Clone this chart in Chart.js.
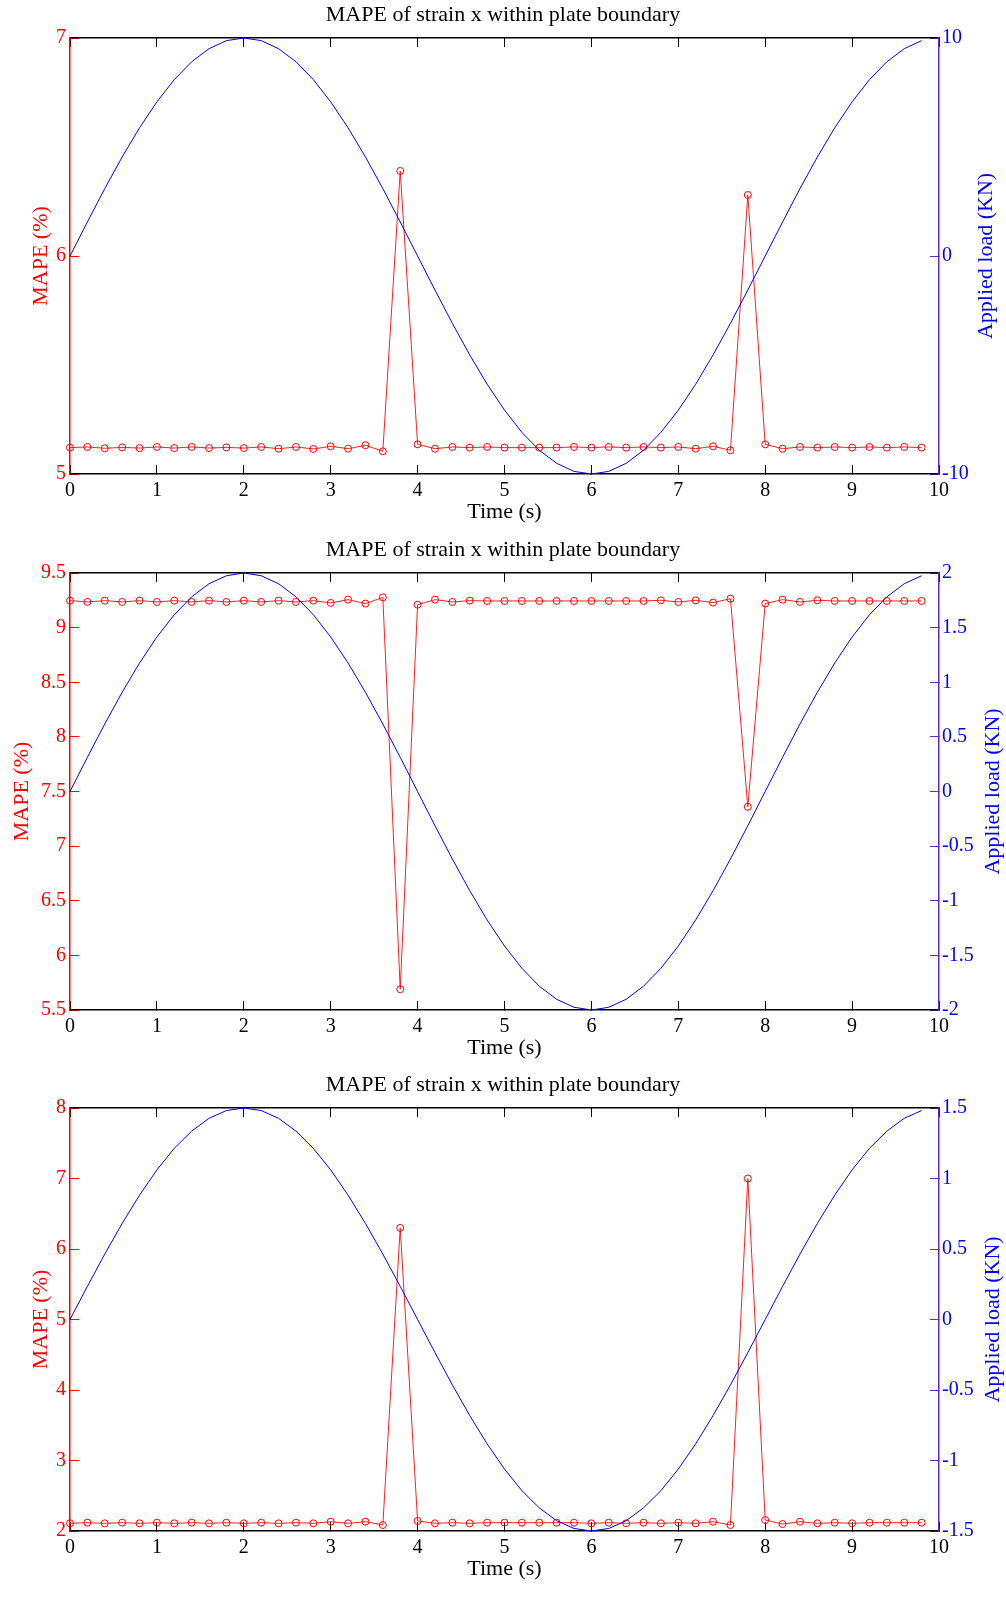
<!DOCTYPE html>
<html>
<head>
<meta charset="utf-8">
<title>MAPE of strain x within plate boundary</title>
<script src="https://cdn.jsdelivr.net/npm/chart.js@4.4.1/dist/chart.umd.min.js"></script>
<style>
    body { margin: 0; background: #ffffff; }
    .painel { position: absolute; left: 0; }
</style>
</head>
<body>
<div class="painel" style="top: 0px;"><canvas id="grafico1" width="1006" height="526"></canvas></div>
<div class="painel" style="top: 535px;"><canvas id="grafico2" width="1006" height="527"></canvas></div>
<div class="painel" style="top: 1070px;"><canvas id="grafico3" width="1006" height="513"></canvas></div>
<script>
// sample instants (s)
var time = [0, 0.2, 0.4, 0.6, 0.8, 1, 1.2, 1.4, 1.6, 1.8, 2, 2.2, 2.4, 2.6, 2.8, 3, 3.2, 3.4, 3.6, 3.8,
    4, 4.2, 4.4, 4.6, 4.8, 5, 5.2, 5.4, 5.6, 5.8, 6, 6.2, 6.4, 6.6, 6.8, 7, 7.2, 7.4, 7.6, 7.8,
    8, 8.2, 8.4, 8.6, 8.8, 9, 9.2, 9.4, 9.6, 9.8];

// MAPE (%) per case
var mape1 = [5.121, 5.124, 5.118, 5.122, 5.119, 5.124, 5.119, 5.124, 5.119, 5.122, 5.119, 5.124, 5.116, 5.124, 5.115, 5.127, 5.116, 5.132, 5.104, 6.39,
    5.136, 5.116, 5.124, 5.121, 5.124, 5.121, 5.121, 5.121, 5.121, 5.124, 5.121, 5.124, 5.121, 5.124, 5.121, 5.124, 5.116, 5.127, 5.109, 6.28,
    5.136, 5.116, 5.124, 5.121, 5.124, 5.121, 5.124, 5.121, 5.124, 5.121];
var mape2 = [9.247, 9.235, 9.247, 9.235, 9.247, 9.235, 9.247, 9.235, 9.247, 9.235, 9.247, 9.235, 9.247, 9.235, 9.247, 9.226, 9.256, 9.220, 9.277, 5.69,
    9.210, 9.256, 9.235, 9.247, 9.244, 9.244, 9.244, 9.244, 9.244, 9.244, 9.244, 9.244, 9.244, 9.244, 9.250, 9.235, 9.250, 9.229, 9.265, 7.36,
    9.220, 9.256, 9.235, 9.250, 9.244, 9.244, 9.244, 9.244, 9.244, 9.244];
var mape3 = [2.109, 2.118, 2.109, 2.118, 2.109, 2.118, 2.109, 2.118, 2.109, 2.118, 2.109, 2.118, 2.109, 2.118, 2.109, 2.132, 2.109, 2.132, 2.085, 6.30,
    2.142, 2.109, 2.118, 2.109, 2.118, 2.118, 2.118, 2.118, 2.118, 2.118, 2.109, 2.118, 2.109, 2.118, 2.109, 2.118, 2.109, 2.132, 2.085, 7.00,
    2.156, 2.099, 2.132, 2.109, 2.118, 2.109, 2.118, 2.118, 2.118, 2.118];

// applied load (KN) per case
var load1 = [0, 1.56, 3.09, 4.54, 5.88, 7.07, 8.09, 8.91, 9.51, 9.88, 10, 9.88, 9.51, 8.91, 8.09, 7.07, 5.88, 4.54, 3.09, 1.56,
    0, -1.56, -3.09, -4.54, -5.88, -7.07, -8.09, -8.91, -9.51, -9.88, -10, -9.88, -9.51, -8.91, -8.09, -7.07, -5.88, -4.54, -3.09, -1.56,
    0, 1.56, 3.09, 4.54, 5.88, 7.07, 8.09, 8.91, 9.51, 9.88];
var load2 = [0, 0.313, 0.618, 0.908, 1.176, 1.414, 1.618, 1.782, 1.902, 1.975, 2, 1.975, 1.902, 1.782, 1.618, 1.414, 1.176, 0.908, 0.618, 0.313,
    0, -0.313, -0.618, -0.908, -1.176, -1.414, -1.618, -1.782, -1.902, -1.975, -2, -1.975, -1.902, -1.782, -1.618, -1.414, -1.176, -0.908, -0.618, -0.313,
    0, 0.313, 0.618, 0.908, 1.176, 1.414, 1.618, 1.782, 1.902, 1.975];
var load3 = [0, 0.235, 0.464, 0.681, 0.882, 1.061, 1.214, 1.336, 1.427, 1.482, 1.5, 1.482, 1.427, 1.336, 1.214, 1.061, 0.882, 0.681, 0.464, 0.235,
    0, -0.235, -0.464, -0.681, -0.882, -1.061, -1.214, -1.336, -1.427, -1.482, -1.5, -1.482, -1.427, -1.336, -1.214, -1.061, -0.882, -0.681, -0.464, -0.235,
    0, 0.235, 0.464, 0.681, 0.882, 1.061, 1.214, 1.336, 1.427, 1.482];

// axis limits and tick steps
var mapeLimits = [[5, 7, 1], [5.5, 9.5, 0.5], [2, 8, 1]];
var loadLimits = [[-10, 10, 10], [-2, 2, 0.5], [-1.5, 1.5, 0.5]];

var fonte = "'Liberation Serif', 'Times New Roman', serif";
var axisPurple = "#6428c8";

function pontos(xs, ys) {
    return xs.map(function (x, i) {
        return { x: x, y: ys[i] };
    });
}

function limpa(value) {
    return String(Math.round(value * 100) / 100);
}

// right axis title reads bottom-to-top like the left one
var rightTitlePlugin = {
    id: "rightTitle",
    afterDraw: function (chart, args, opts) {
        var area = chart.chartArea;
        var ctx = chart.ctx;
        ctx.save();
        ctx.translate(opts.x, (area.top + area.bottom) / 2);
        ctx.rotate(-Math.PI / 2);
        ctx.font = "22px " + fonte;
        ctx.fillStyle = "#0000ff";
        ctx.textAlign = "center";
        ctx.textBaseline = "middle";
        ctx.fillText(opts.text, 0, 0);
        ctx.restore();
    },
};

function desenha(id, mape, load, mLim, lLim, leftTitlePad, rightTitleX) {
    var ctx = document.getElementById(id);

    new Chart(ctx, {
        type: "line",
        data: {
            datasets: [
                {
                    label: "Applied load",
                    data: pontos(time, load),
                    yAxisID: "y2",
                    borderColor: "#0000ff",
                    borderWidth: 1,
                    pointRadius: 0,
                    tension: 0,
                    clip: false,
                },
                {
                    label: "MAPE",
                    data: pontos(time, mape),
                    yAxisID: "y",
                    borderColor: "#ff2020",
                    borderWidth: 1,
                    pointRadius: 3.5,
                    pointBorderWidth: 1,
                    pointBorderColor: "#ff0000",
                    pointBackgroundColor: "rgba(255,255,255,0)",
                    tension: 0,
                    clip: false,
                },
            ],
        },
        options: {
            responsive: false,
            animation: false,
            devicePixelRatio: 1,
            layout: { padding: 0 },
            plugins: {
                legend: { display: false },
                tooltip: { enabled: false },
                title: {
                    display: true,
                    text: "MAPE of strain x within plate boundary",
                    color: "#000000",
                    font: { family: fonte, size: 22, weight: "normal", lineHeight: 1.2 },
                    padding: { top: 2, bottom: 9.6 },
                },
                rightTitle: { x: rightTitleX, text: "Applied load (KN)" },
            },
            scales: {
                x: {
                    type: "linear",
                    position: "bottom",
                    min: 0,
                    max: 10,
                    afterFit: function (scale) {
                        scale.height = 52;
                    },
                    ticks: {
                        stepSize: 1,
                        color: "#000000",
                        padding: 14,
                        maxRotation: 0,
                        font: { family: fonte, size: 20 },
                    },
                    grid: { drawOnChartArea: false, tickLength: -9, color: "#000000" },
                    border: { color: "#000000", width: 1.5 },
                    title: {
                        display: true,
                        text: "Time (s)",
                        color: "#000000",
                        font: { family: fonte, size: 22, lineHeight: 1.2 },
                        padding: { top: 0, bottom: 1 },
                    },
                },
                xTop: {
                    type: "linear",
                    position: "top",
                    min: 0,
                    max: 10,
                    afterFit: function (scale) {
                        scale.height = 0;
                    },
                    ticks: { stepSize: 1, display: false },
                    grid: { drawOnChartArea: false, tickLength: -9, color: "#000000" },
                    border: { color: "#000000", width: 1.5 },
                },
                y: {
                    type: "linear",
                    position: "left",
                    min: mLim[0],
                    max: mLim[1],
                    afterFit: function (scale) {
                        scale.width = 70;
                    },
                    ticks: {
                        stepSize: mLim[2],
                        color: "#ff0000",
                        padding: 13,
                        font: { family: fonte, size: 20 },
                        callback: function (value) {
                            return limpa(value);
                        },
                    },
                    grid: { drawOnChartArea: false, tickLength: -9, color: "#ff0000" },
                    border: { color: "#ff0000", width: 1.5 },
                    title: {
                        display: true,
                        text: "MAPE (%)",
                        color: "#ff0000",
                        font: { family: fonte, size: 22, lineHeight: 1.2 },
                        padding: { top: leftTitlePad, bottom: 0 },
                    },
                },
                y2: {
                    type: "linear",
                    position: "right",
                    min: lLim[0],
                    max: lLim[1],
                    afterFit: function (scale) {
                        scale.width = 67;
                    },
                    ticks: {
                        stepSize: lLim[2],
                        color: "#0000ff",
                        padding: 12,
                        font: { family: fonte, size: 20 },
                        callback: function (value) {
                            return limpa(value);
                        },
                    },
                    grid: { drawOnChartArea: false, tickLength: -9, color: axisPurple },
                    border: { color: axisPurple, width: 1.5 },
                },
            },
        },
        plugins: [rightTitlePlugin],
    });
}

desenha("grafico1", mape1, load1, mapeLimits[0], loadLimits[0], 28, 986);
desenha("grafico2", mape2, load2, mapeLimits[1], loadLimits[1], 9, 993);
desenha("grafico3", mape3, load3, mapeLimits[2], loadLimits[2], 28, 993);
</script>
</body>
</html>
